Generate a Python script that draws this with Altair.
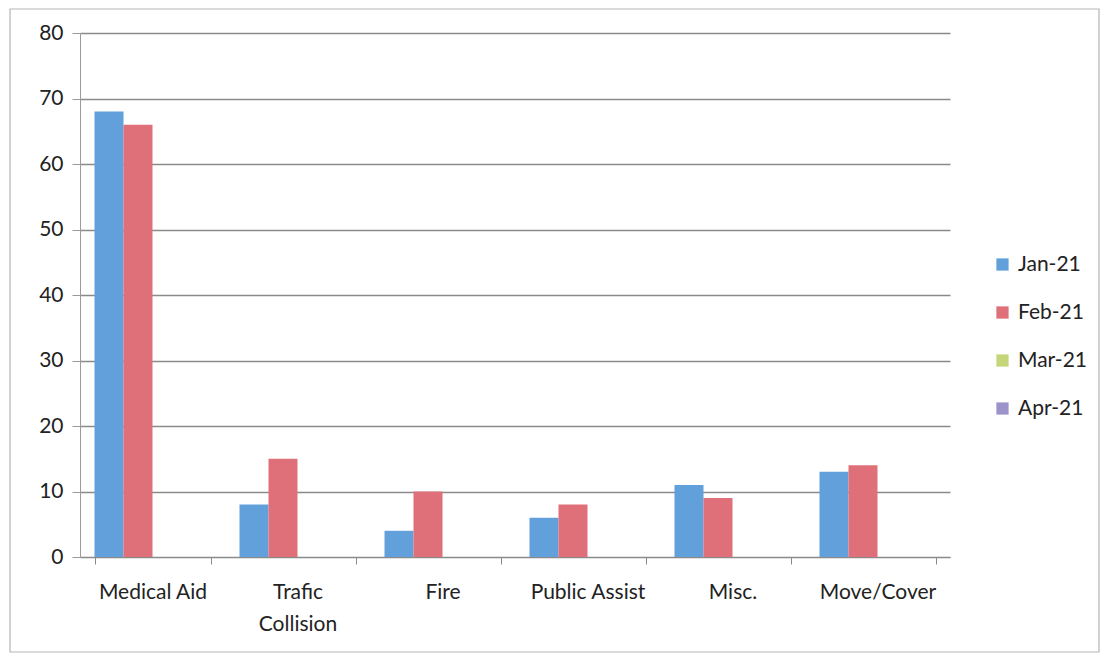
import altair as alt
import pandas as pd

categories = ["Medical Aid", "Trafic Collision", "Fire", "Public Assist", "Misc.", "Move/Cover"]
series = ["Jan-21", "Feb-21", "Mar-21", "Apr-21"]
jan_values = [68, 8, 4, 6, 11, 13]
feb_values = [66, 15, 10, 8, 9, 14]
colors = ["#62a0dc", "#df6f79", "#c5d57a", "#9d93cb"]
y_ticks = [0, 10, 20, 30, 40, 50, 60, 70, 80]

rows = []
for c, v in zip(categories, jan_values):
    rows.append({"category": c, "month": "Jan-21", "value": v})
for c, v in zip(categories, feb_values):
    rows.append({"category": c, "month": "Feb-21", "value": v})
df = pd.DataFrame(rows)

FONT = "Lato"

bars = alt.Chart(df).mark_bar().encode(
    x=alt.X("category:N", sort=categories, title=None,
            scale=alt.Scale(domain=categories, paddingInner=0.2, paddingOuter=0.1),
            axis=alt.Axis(labelAngle=0, tickBand="extent", labelFontSize=21, labelFont=FONT,
                          labelColor="#222222", labelPadding=17, tickSize=7, tickColor="#8a8a8a",
                          domainColor="#8a8a8a", grid=False,
                          labelExpr="datum.label == 'Trafic Collision' ? ['Trafic', 'Collision'] : datum.label",
                          labelLineHeight=32)),
    xOffset=alt.XOffset("month:N", scale=alt.Scale(domain=series, paddingInner=0)),
    y=alt.Y("value:Q", title=None,
            scale=alt.Scale(domain=[0, 80], nice=False),
            axis=alt.Axis(values=y_ticks, labelFontSize=21, labelFont=FONT, labelColor="#222222",
                          tickSize=8, tickColor="#9a9a9a", domainColor="#9a9a9a",
                          gridColor="#8a8a8a", gridWidth=1.3, labelPadding=9)),
    color=alt.Color("month:N", scale=alt.Scale(domain=series, range=colors),
                    legend=alt.Legend(title=None, orient="none", legendX=912, legendY=221,
                                      symbolType="square", symbolSize=150, symbolStrokeWidth=0,
                                      labelFontSize=21, labelFont=FONT, labelColor="#222222",
                                      rowPadding=26, labelOffset=5)),
)

border = alt.Chart(pd.DataFrame({"a": [0]})).mark_rect(
    fill=None, stroke="#b5b5b5", strokeWidth=1.2
).encode(x=alt.value(-70), x2=alt.value(1019), y=alt.value(-24), y2=alt.value(619))

chart = alt.layer(border, bars).properties(
    width=870, height=524,
    autosize=alt.AutoSizeParams(type="none"),
    padding={"left": 72, "top": 25, "right": 151, "bottom": 97},
).configure(background="white", view=alt.ViewConfig(stroke=None))

chart.save("out.html", embed_options={"renderer": "svg", "actions": False})
